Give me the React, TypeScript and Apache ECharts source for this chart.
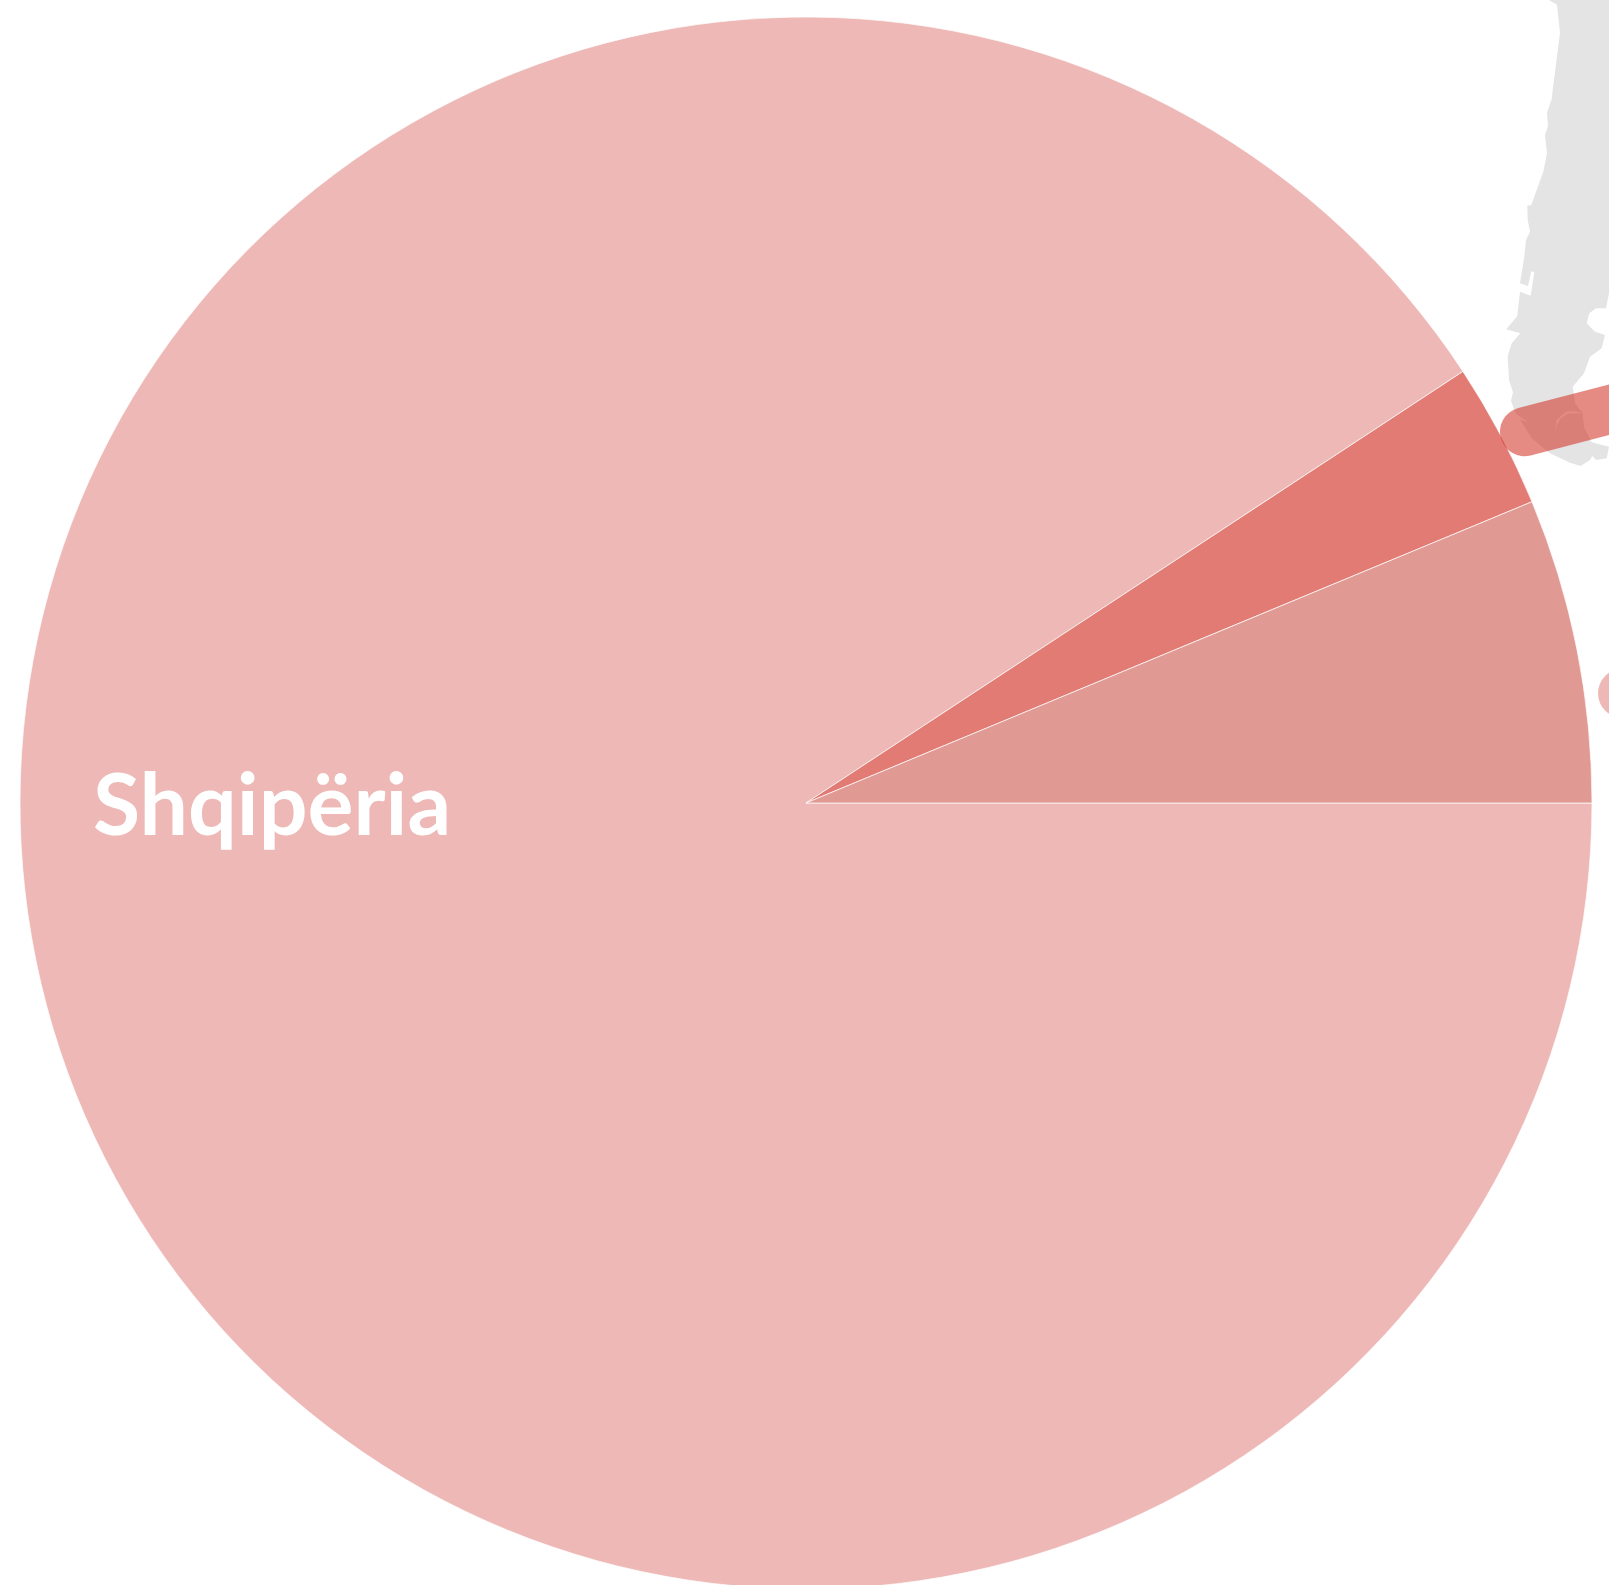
import React, { useEffect, useRef } from "react";
import * as echarts from "echarts";

const sliceNames = ["Shqipëria", "", ""];
const sliceValues = [90.75, 2.99, 6.26];
const sliceColors = ["#edb8b5", "#e17b73", "#e19993"];

const landOutline = [
  [1549, 0], [1557, 4.7], [1560, 33], [1552.7, 90], [1551.7, 99], [1547, 112.7], [1548, 126], [1545, 135],
  [1547, 153], [1543.3, 171.7], [1531.3, 205], [1527.3, 205.7], [1527.7, 220], [1530, 231.7], [1526, 240],
  [1524.3, 256.7], [1520, 283.3], [1528, 286], [1531.3, 271.3], [1534.3, 272.3], [1530.7, 295.7], [1520, 291.7],
  [1517.3, 316], [1506.3, 329.3], [1520.3, 333.3], [1511.7, 343.3], [1507.7, 356], [1509, 380], [1513, 392.3],
  [1511, 400.7], [1515, 411.7], [1531.7, 438.3], [1550, 453.3], [1570, 462.7], [1580.7, 466], [1590, 460],
  [1592.3, 456], [1596, 460], [1606.7, 458.3], [1609, 446.7], [1591.7, 442.3], [1584, 426.7], [1582.7, 413.3],
  [1575, 403.3], [1572.7, 386.7], [1584, 373.3], [1590, 356.7], [1601.7, 348.3], [1605, 335], [1595, 331.7],
  [1586.7, 323.3], [1589.3, 313.3], [1596, 308.3], [1606, 308.3], [1609, 293.3], [1609, 0],
];
const lakeA = [[1514, 412.5], [1528, 422], [1516, 418.5]];
const lakeB = [[1555, 431.7], [1556.7, 420], [1566, 411.7], [1575, 411.3], [1582.7, 413.3], [1568, 413.5], [1560, 419], [1557, 425]];

export default function App() {
  const ref = useRef<HTMLDivElement>(null);
  useEffect(() => {
    const chart = echarts.init(ref.current!, undefined, { renderer: "svg" });
    chart.setOption({
      animation: false,
      backgroundColor: "#ffffff",
      graphic: [
        { type: "polygon", z: 1, silent: true, shape: { points: landOutline }, style: { fill: "#e4e4e4" } },
        { type: "polygon", z: 1, silent: true, shape: { points: lakeA }, style: { fill: "#ffffff" } },
        { type: "polygon", z: 1, silent: true, shape: { points: lakeB }, style: { fill: "#ffffff" } },
        {
          type: "line", z: 10, silent: true,
          shape: { x1: 1524.5, y1: 431.7, x2: 1720, y2: 380.9 },
          style: { stroke: "rgba(209,51,39,0.57)", lineWidth: 49, lineCap: "round" },
        },
        {
          type: "line", z: 10, silent: true,
          shape: { x1: 1622.5, y1: 693.3, x2: 1760, y2: 693.3 },
          style: { stroke: "#edb8b5", lineWidth: 49, lineCap: "round" },
        },
      ],
      series: [
        {
          type: "pie",
          z: 2,
          silent: true,
          center: [806, 803],
          radius: [0, 786],
          startAngle: 0,
          clockwise: true,
          avoidLabelOverlap: false,
          itemStyle: { borderColor: "#ffffff", borderWidth: 0.7 },
          emphasis: { disabled: true },
          labelLine: { show: false },
          label: { show: false },
          labelLayout: { x: 272, y: 801.5, align: "center", verticalAlign: "middle", hideOverlap: false },
          data: sliceValues.map((value, i) => ({
            value,
            name: sliceNames[i],
            itemStyle: { color: sliceColors[i] },
            label: i === 0
              ? { show: true, position: "inside", formatter: "{b}", color: "#ffffff", fontFamily: "Lato", fontWeight: "bold", fontSize: 86 }
              : { show: false },
          })),
        },
      ],
    });
    return () => chart.dispose();
  }, []);
  return <div ref={ref} style={{ position: "absolute", left: 0, top: 0, width: 1609, height: 1585, overflow: "hidden" }} />;
}
